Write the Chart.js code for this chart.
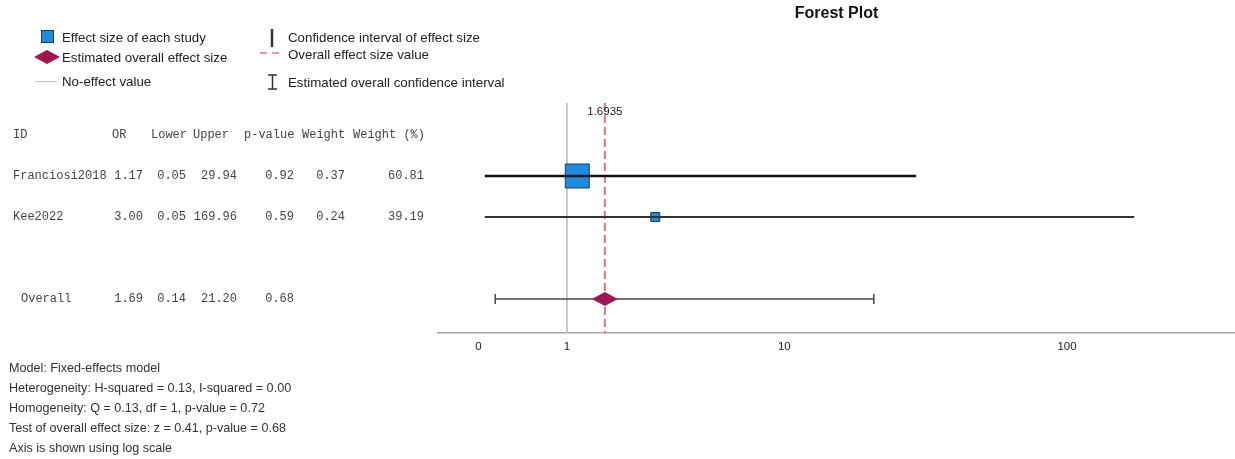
<!DOCTYPE html>
<html>
<head>
<meta charset="utf-8">
<title>Forest Plot</title>
<script src="https://cdn.jsdelivr.net/npm/chart.js@4/dist/chart.umd.min.js"></script>
<style>
  html, body { margin: 0; padding: 0; background: #fff; overflow: hidden; }
  #wrap { width: 1235px; height: 459px; }
  canvas { display: block; }
</style>
</head>
<body>
<div id="wrap"><canvas id="forest" width="1235" height="459"></canvas></div>
<script>
// study table values
const studyIds = ['Franciosi2018', 'Kee2022'];
const studyOR = [1.17, 3.00];
const studyLower = [0.05, 0.05];
const studyUpper = [29.94, 169.96];
const studyP = [0.92, 0.59];
const studyWeight = [0.37, 0.24];
const studyWeightPct = [60.81, 39.19];

// overall estimate
const overallOR = 1.6935;
const overallLower = 0.14;
const overallUpper = 21.20;
const overallP = 0.68;

// model statistics
const hSquared = 0.13, iSquared = 0.00;
const qStat = 0.13, qDf = 1, qP = 0.72;
const zStat = 0.41;

const xTicks = [0, 1, 10, 100];
const tableHeaders = ['ID', 'OR', 'Lower', 'Upper', 'p-value', 'Weight', 'Weight (%)'];

// styles / layout
const squareSides = [24, 9];
const ciWidths = [2.5, 2];
const ciColors = ['#111', '#333'];
const BLUE = '#1e8be0';
const DIAMOND = '#a0174f';
const RED = '#e8707a';
const SANS = '"Liberation Sans", Arial, sans-serif';
const MONO = '"Liberation Mono", "Courier New", monospace';
const yMin = -0.78, yMax = 4.83;
const overallRow = studyIds.length + 2;

// axis shown as log(1 + x)
class Log1pScale extends Chart.Scale {
  determineDataLimits() {
    this.min = this.options.min;
    this.max = this.options.max;
  }
  buildTicks() {
    return xTicks.map(v => ({ value: v }));
  }
  configure() {
    super.configure();
    this._startValue = Math.log1p(this.min);
    this._valueRange = Math.log1p(this.max) - this._startValue;
  }
  getPixelForValue(v) {
    return this.getPixelForDecimal((Math.log1p(v) - this._startValue) / this._valueRange);
  }
  getValueForPixel(p) {
    return Math.expm1(this._startValue + this.getDecimalForPixel(p) * this._valueRange);
  }
  getLabelForValue(v) {
    return String(v);
  }
}
Log1pScale.id = 'log1p';
Log1pScale.defaults = {};
Chart.register(Log1pScale);

function makeDiamond(w, h, color) {
  let c = document.createElement('canvas');
  c.width = w;
  c.height = h;
  let g = c.getContext('2d');
  g.fillStyle = color;
  g.beginPath();
  g.moveTo(0, h / 2);
  g.lineTo(w / 2, 0);
  g.lineTo(w, h / 2);
  g.lineTo(w / 2, h);
  g.closePath();
  g.fill();
  return c;
}
const diamondImg = makeDiamond(26, 14, DIAMOND);

function text(ctx, str, x, y, font, color, align) {
  ctx.font = font;
  ctx.fillStyle = color;
  ctx.textAlign = align || 'left';
  ctx.textBaseline = 'middle';
  ctx.fillText(str, x, y);
}

function line(ctx, x1, y1, x2, y2, color, width, dash) {
  ctx.save();
  ctx.strokeStyle = color;
  ctx.lineWidth = width;
  ctx.setLineDash(dash || []);
  ctx.beginPath();
  ctx.moveTo(x1, y1);
  ctx.lineTo(x2, y2);
  ctx.stroke();
  ctx.restore();
}

const forestText = {
  id: 'forestText',
  afterDatasetsDraw(chart) {
    const ctx = chart.ctx;
    const xs = chart.scales.x, ys = chart.scales.y;
    ctx.save();
    text(ctx, overallOR.toFixed(4), xs.getPixelForValue(overallOR), ys.getPixelForValue(-0.56), '11.5px ' + SANS, '#222', 'center');
    ctx.restore();
  },
  afterDraw(chart) {
    const ctx = chart.ctx;
    const area = chart.chartArea;
    const ys = chart.scales.y;
    ctx.save();

    // title
    text(ctx, 'Forest Plot', (area.left + area.right) / 2, 14, 'bold 16px ' + SANS, '#111', 'center');

    // legend
    const lf = '13.3px ' + SANS, lc = '#222';
    ctx.fillStyle = BLUE;
    ctx.fillRect(41, 30, 13, 13);
    ctx.strokeStyle = '#1b3a5c';
    ctx.lineWidth = 1;
    ctx.strokeRect(41.5, 30.5, 12, 12);
    text(ctx, 'Effect size of each study', 62, 38, lf, lc);
    ctx.drawImage(diamondImg, 34, 50);
    text(ctx, 'Estimated overall effect size', 62, 58, lf, lc);
    line(ctx, 35, 81.5, 57, 81.5, '#c8c8c8', 1);
    text(ctx, 'No-effect value', 62, 82, lf, lc);

    line(ctx, 272, 29, 272, 47, '#333', 2.5);
    text(ctx, 'Confidence interval of effect size', 288, 38, lf, lc);
    line(ctx, 260, 53, 284, 53, RED, 1.5, [7, 5]);
    text(ctx, 'Overall effect size value', 288, 55, lf, lc);
    line(ctx, 272.5, 75, 272.5, 89, '#333', 1.5);
    line(ctx, 268, 75, 277, 75, '#333', 1.5);
    line(ctx, 268, 89, 277, 89, '#333', 1.5);
    text(ctx, 'Estimated overall confidence interval', 288, 83, lf, lc);

    // table
    const tf = '12px ' + MONO, tc = '#444';
    const headX = [13, 112, 151, 193, 244, 302, 353];
    const colRight = [143, 186, 237, 294, 345, 424];
    const yHead = ys.getPixelForValue(0);
    tableHeaders.forEach((h, i) => text(ctx, h, headX[i], yHead, tf, tc));
    studyIds.forEach((id, i) => {
      const y = ys.getPixelForValue(i + 1);
      text(ctx, id, 13, y, tf, tc);
      [studyOR[i], studyLower[i], studyUpper[i], studyP[i], studyWeight[i], studyWeightPct[i]].forEach((v, c) => {
        text(ctx, v.toFixed(2), colRight[c], y, tf, tc, 'right');
      });
    });
    const yo = ys.getPixelForValue(overallRow);
    text(ctx, 'Overall', 21, yo, tf, tc);
    [overallOR, overallLower, overallUpper, overallP].forEach((v, c) => {
      text(ctx, v.toFixed(2), colRight[c], yo, tf, tc, 'right');
    });

    // footer
    const footer = [
      'Model: Fixed-effects model',
      'Heterogeneity: H-squared = ' + hSquared.toFixed(2) + ', I-squared = ' + iSquared.toFixed(2),
      'Homogeneity: Q = ' + qStat.toFixed(2) + ', df = ' + qDf + ', p-value = ' + qP.toFixed(2),
      'Test of overall effect size: z = ' + zStat.toFixed(2) + ', p-value = ' + overallP.toFixed(2),
      'Axis is shown using log scale'
    ];
    footer.forEach((s, i) => text(ctx, s, 9, 369 + i * 20, '12.6px ' + SANS, '#333'));
    ctx.restore();
  }
};

const datasets = [];
// overall diamond
datasets.push({
  data: [{ x: overallOR, y: overallRow }],
  pointStyle: diamondImg,
  showLine: false,
  order: 0
});
// overall CI with end caps
datasets.push({
  data: [{ x: overallLower, y: overallRow }, { x: overallUpper, y: overallRow }],
  showLine: true,
  borderColor: '#444',
  borderWidth: 1.5,
  pointStyle: 'line',
  rotation: 90,
  pointRadius: 5,
  pointBorderColor: '#444',
  pointBorderWidth: 1.5,
  order: 1
});
// study CIs
studyIds.forEach((id, i) => {
  datasets.push({
    data: [{ x: studyLower[i], y: i + 1 }, { x: studyUpper[i], y: i + 1 }],
    showLine: true,
    borderColor: ciColors[i],
    borderWidth: ciWidths[i],
    pointRadius: 0,
    order: 2
  });
});
// study squares
datasets.push({
  data: studyOR.map((v, i) => ({ x: v, y: i + 1 })),
  showLine: false,
  pointStyle: 'rect',
  pointRadius: ctx => squareSides[ctx.dataIndex] / Math.SQRT2,
  backgroundColor: BLUE,
  borderColor: '#1b3a5c',
  borderWidth: 1,
  order: 3
});
// overall effect reference line
datasets.push({
  data: [{ x: overallOR, y: yMin }, { x: overallOR, y: yMax }],
  showLine: true,
  borderColor: RED,
  borderWidth: 2,
  borderDash: [8, 4],
  pointRadius: 0,
  order: 4
});
// no-effect line
datasets.push({
  data: [{ x: 1, y: yMin }, { x: 1, y: yMax }],
  showLine: true,
  borderColor: '#c0c0c0',
  borderWidth: 1,
  pointRadius: 0,
  order: 5
});

new Chart(document.getElementById('forest'), {
  type: 'scatter',
  data: { datasets: datasets },
  options: {
    responsive: false,
    animation: false,
    devicePixelRatio: 1,
    layout: { autoPadding: false, padding: { left: 438, right: 0, top: 103, bottom: 96 } },
    plugins: { legend: { display: false }, tooltip: { enabled: false } },
    scales: {
      x: {
        type: 'log1p',
        position: 'bottom',
        min: -0.272,
        max: 376,
        grid: { display: false, drawTicks: false },
        border: { display: true, color: '#a6a6a6', width: 1.5 },
        ticks: { color: '#222', font: { family: SANS, size: 11.5 }, padding: 7, autoSkip: false, maxRotation: 0 },
        afterFit: s => {
          s.height = 30;
          s.paddingLeft = 0;
          s.paddingRight = 0;
        }
      },
      y: {
        type: 'linear',
        min: yMin,
        max: yMax,
        reverse: true,
        display: false
      }
    }
  },
  plugins: [forestText]
});
</script>
</body>
</html>
